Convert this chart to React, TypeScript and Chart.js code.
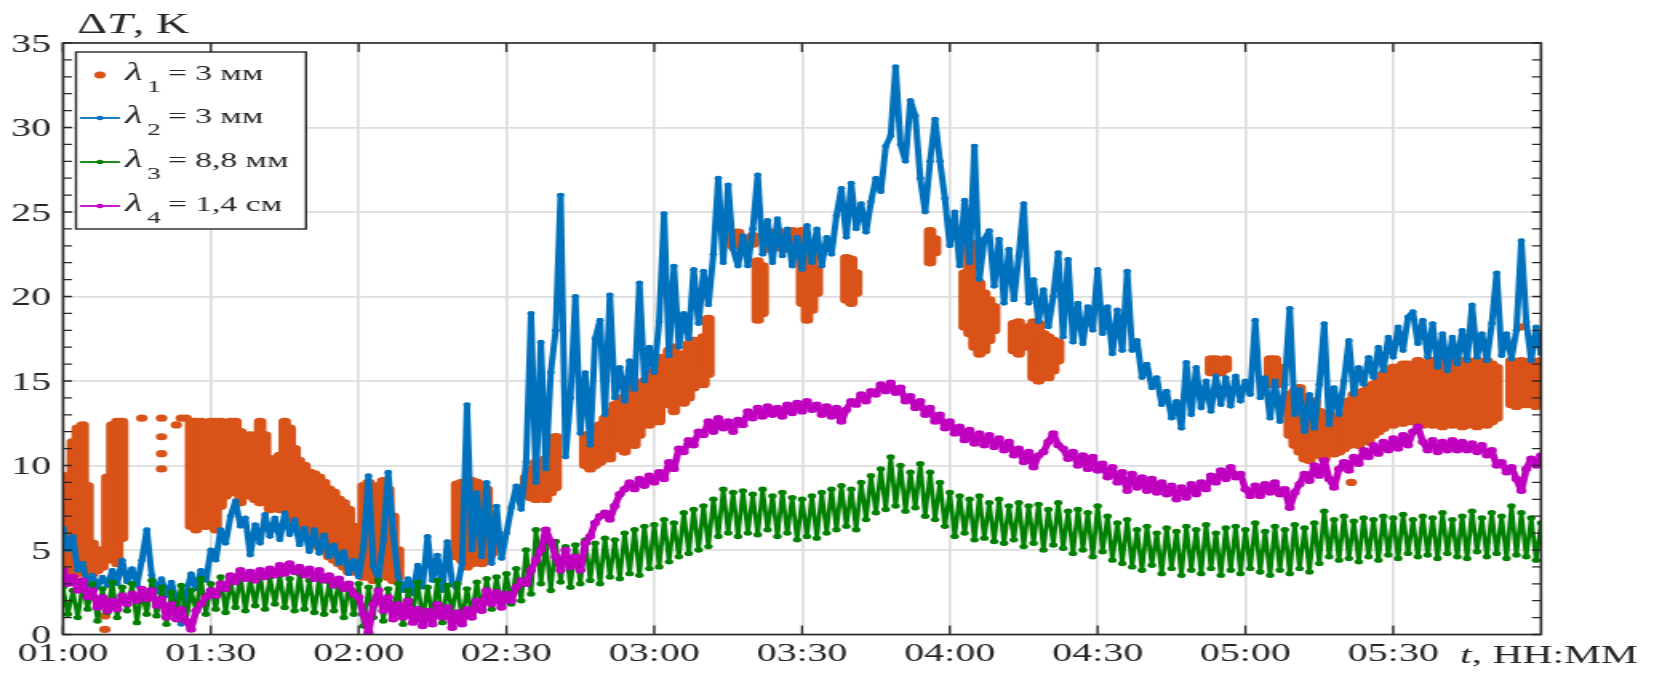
import React, { useEffect, useRef } from 'react';
import { Chart, registerables } from 'chart.js';

Chart.register(...registerables);

// ---------- data (minute offsets from 01:00, one sample per minute) ----------
const xTickMinutes = [0, 30, 60, 90, 120, 150, 180, 210, 240, 270];
const xTickLabels = ['01:00', '01:30', '02:00', '02:30', '03:00', '03:30', '04:00', '04:30', '05:00', '05:30'];
const X_MAX = 300;
const Y_MIN = 0;
const Y_MAX = 35;
const Y_STEP = 5;

const _ = null;

// λ2 = 3 mm (blue)
const blue = [
  6.3, 5.0, 5.8, 3.8, 4.2, 2.9, 3.5, 2.8, 3.4, 2.9,
  3.8, 3.0, 4.4, 3.1, 3.9, 2.9, 4.4, 6.2, 3.5, 2.5,
  3.3, 2.3, 3.1, 2.0, 0.6, 2.4, 3.6, 2.7, 3.8, 3.2,
  5.0, 4.4, 6.2, 5.4, 7.0, 7.9, 6.4, 6.9, 4.7, 6.5,
  5.4, 7.1, 5.8, 6.9, 5.6, 7.2, 5.9, 6.8, 5.3, 6.3,
  4.9, 6.2, 4.8, 5.9, 4.6, 5.3, 4.2, 4.9, 3.6, 4.4,
  3.4, 5.2, 9.4, 4.0, 3.3, 5.6, 9.6, 6.0, 3.4, 2.6,
  3.3, 2.4, 4.1, 2.8, 5.8, 3.2, 4.7, 2.6, 5.5, 3.0,
  2.7, 4.2, 13.6, 5.0, 8.4, 4.6, 9.0, 4.2, 7.6, 4.5,
  6.0, 7.5, 8.8, 7.4, 10.2, 19.0, 9.0, 17.3, 9.8, 15.5,
  18.0, 26.0, 10.5, 14.0, 20.0, 11.9, 15.5, 11.2, 17.5, 18.6,
  13.0, 20.1, 14.0, 15.8, 13.8, 16.2, 14.5, 20.8, 15.0, 17.0,
  15.5, 18.5, 24.9, 16.5, 21.8, 17.0, 19.0, 17.5, 21.6, 18.4,
  21.5, 19.5, 22.5, 27.0, 22.0, 26.6, 22.8, 21.8, 23.6, 21.8,
  24.0, 27.2, 22.5, 24.5, 22.0, 24.6, 22.4, 24.0, 21.8, 23.5,
  21.6, 24.2, 22.0, 24.0, 21.8, 23.5, 22.5, 24.8, 26.4, 23.5,
  26.7, 24.0, 25.5, 23.8, 25.6, 27.0, 26.2, 28.9, 29.5, 33.6,
  29.0, 28.0, 31.6, 30.7, 27.0, 25.0, 28.0, 30.5, 28.0, 25.8,
  23.0, 25.0, 21.8, 25.7, 22.0, 28.9, 21.0, 23.4, 23.9, 20.6,
  23.4, 19.6, 22.8, 19.8, 22.4, 25.5, 19.6, 21.0, 18.5, 20.4,
  18.2, 20.0, 22.6, 17.6, 22.2, 17.3, 19.6, 17.2, 19.4, 18.0,
  21.6, 17.8, 19.4, 16.6, 19.2, 16.8, 21.5, 16.8, 17.4, 15.2,
  16.0, 14.6, 15.2, 13.6, 14.4, 12.8, 13.8, 12.2, 16.1, 13.0,
  15.8, 13.4, 15.0, 13.2, 15.3, 13.6, 15.2, 13.5, 15.3, 13.8,
  15.0, 14.2, 18.6, 14.0, 15.2, 12.8, 15.0, 12.6, 14.8, 19.3,
  13.0, 14.5, 12.0, 14.2, 12.2, 14.8, 18.4, 12.4, 14.6, 13.0,
  15.0, 17.4, 14.2, 15.8, 14.8, 16.4, 15.2, 17.0, 15.6, 17.6,
  16.4, 18.2, 16.8, 18.8, 19.1, 17.2, 18.6, 16.4, 18.4, 15.8,
  17.8, 15.6, 17.6, 16.0, 18.0, 16.2, 19.5, 16.4, 17.8, 16.2,
  18.4, 21.4, 16.5, 17.8, 16.3, 18.0, 23.3, 18.5, 16.2, 18.2,
  16.6,
];

// λ3 = 8,8 mm (green)
const green = [
  2.8, 1.2, 2.6, 1.0, 2.9, 1.5, 3.0, 0.8, 2.7, 1.3,
  3.1, 1.0, 2.8, 1.4, 3.0, 0.7, 2.6, 1.2, 3.2, 1.1,
  2.8, 0.6, 2.5, 1.3, 2.9, 0.8, 2.6, 1.4, 3.3, 1.2,
  3.0, 1.5, 3.4, 1.3, 3.2, 1.6, 3.5, 1.4, 3.3, 1.7,
  3.6, 1.5, 3.4, 1.8, 3.5, 1.6, 3.3, 1.4, 3.6, 1.5,
  3.2, 1.3, 3.4, 1.2, 3.1, 1.4, 3.3, 1.0, 3.0, 1.2,
  3.0, 0.5, 2.8, 1.0, 3.2, 0.8, 2.7, 1.1, 3.0, 0.6,
  2.6, 1.2, 3.1, 0.8, 2.8, 1.0, 3.2, 0.7, 2.9, 1.3,
  3.0, 0.8, 2.7, 1.2, 3.1, 1.4, 3.3, 1.5, 3.4, 1.6,
  3.6, 1.8, 3.9, 2.0, 5.0, 2.4, 6.2, 3.0, 5.4, 2.6,
  5.5, 3.1, 5.2, 2.8, 5.3, 3.0, 5.6, 3.2, 5.4, 3.0,
  5.7, 3.4, 5.6, 3.3, 6.0, 3.6, 6.2, 3.5, 6.4, 3.9,
  6.5, 4.0, 6.8, 4.3, 6.6, 4.6, 7.2, 4.8, 7.4, 5.0,
  7.6, 5.2, 8.0, 5.8, 8.6, 6.0, 8.4, 5.8, 8.5, 6.0,
  8.3, 5.9, 8.6, 6.2, 8.2, 5.8, 8.4, 6.0, 8.1, 5.6,
  8.0, 5.8, 8.2, 5.7, 8.4, 6.0, 8.6, 6.2, 8.8, 6.4,
  8.6, 6.2, 9.0, 6.8, 9.4, 7.2, 9.8, 7.4, 10.5, 7.6,
  10.0, 7.3, 9.6, 7.5, 10.1, 7.0, 9.6, 6.8, 9.0, 6.4,
  8.4, 5.8, 8.2, 6.0, 8.0, 5.6, 8.2, 5.7, 7.8, 5.5,
  8.0, 5.4, 7.6, 5.6, 7.8, 5.2, 7.6, 5.4, 7.7, 5.0,
  7.4, 5.3, 7.8, 5.1, 7.3, 4.8, 7.4, 5.0, 7.2, 4.6,
  7.6, 4.9, 7.0, 4.4, 6.6, 4.2, 6.8, 4.0, 6.2, 3.8,
  6.4, 4.1, 6.0, 3.6, 6.3, 3.9, 6.1, 3.5, 6.4, 3.8,
  6.2, 3.6, 6.5, 3.9, 6.0, 3.5, 6.3, 3.8, 6.4, 3.6,
  6.2, 3.9, 6.6, 3.7, 6.1, 3.5, 6.4, 3.8, 6.2, 3.6,
  6.5, 3.9, 6.3, 3.7, 6.6, 4.2, 7.3, 4.6, 6.8, 4.4,
  7.0, 4.5, 6.7, 4.3, 6.9, 4.6, 6.8, 4.4, 7.0, 4.7,
  6.9, 4.5, 7.1, 4.8, 6.8, 4.6, 7.0, 4.7, 6.9, 4.5,
  7.2, 4.8, 6.8, 4.6, 7.0, 4.5, 7.3, 4.9, 6.9, 4.6,
  7.2, 4.8, 7.0, 4.5, 7.6, 4.7, 7.2, 4.6, 6.9, 4.4,
  6.6,
];

// λ4 = 1,4 cm (magenta)
const purple = [
  3.8, 3.0, 3.4, 2.6, 3.2, 2.2, 2.6, 1.6, 2.2, 1.4,
  2.0, 1.5, 2.3, 1.8, 2.4, 2.0, 2.7, 2.1, 2.6, 1.7,
  2.1, 1.0, 1.8, 0.9, 1.5, 0.8, 0.3, 1.4, 1.8, 2.2,
  2.6, 2.3, 3.0, 2.7, 3.5, 3.1, 3.8, 3.3, 3.7, 3.2,
  3.8, 3.4, 3.9, 3.5, 4.1, 3.6, 4.2, 3.7, 4.0, 3.5,
  3.9, 3.3, 3.8, 3.2, 3.5, 2.9, 3.3, 2.7, 3.0, 2.4,
  2.2, 1.2, 0.1, 1.8, 2.6, 1.4, 2.2, 0.9, 1.8, 1.0,
  2.0, 0.7, 1.5, 0.5, 1.4, 0.6, 1.8, 1.0, 1.6, 0.4,
  1.3, 0.6, 1.5, 1.0, 2.0, 1.4, 2.6, 1.8, 2.5, 1.6,
  2.4, 2.0, 2.8, 3.2, 3.0, 3.8, 4.4, 5.0, 6.2, 5.5,
  4.6, 3.8, 5.0, 4.0, 4.6, 3.8, 5.4, 5.8, 6.6, 7.0,
  7.2, 6.8, 7.6, 8.3, 8.6, 9.0, 8.6, 9.2, 8.8, 9.4,
  9.0, 9.6, 9.2, 10.2, 9.8, 11.0, 10.8, 11.5, 11.2, 12.0,
  11.8, 12.6, 12.0, 12.8, 12.2, 12.6, 12.0, 12.7, 12.4, 13.2,
  12.8, 13.4, 12.9, 13.5, 13.0, 13.4, 12.9, 13.6, 13.1, 13.7,
  13.2, 13.8, 13.3, 13.6, 13.0, 13.5, 12.9, 13.4, 12.6, 13.3,
  13.8, 13.6, 14.2, 13.8, 14.4, 14.2, 14.8, 14.4, 14.9, 14.3,
  14.6, 13.8, 14.1, 13.4, 13.8, 13.0, 13.4, 12.6, 13.0, 12.2,
  12.6, 11.9, 12.3, 11.5, 12.1, 11.3, 11.9, 11.2, 11.8, 11.1,
  11.6, 10.9, 11.4, 10.6, 11.0, 10.2, 10.8, 9.9, 10.6, 10.8,
  11.4, 11.9, 11.2, 11.0, 10.4, 10.8, 10.0, 10.6, 9.8, 10.5,
  9.7, 10.1, 9.3, 9.9, 9.0, 9.6, 8.5, 9.5, 8.7, 9.3,
  8.5, 9.2, 8.4, 9.0, 8.3, 8.8, 8.0, 8.7, 8.1, 8.9,
  8.3, 9.0, 8.6, 9.4, 9.0, 9.7, 9.2, 9.9, 9.3, 9.5,
  8.6, 8.2, 8.8, 8.2, 8.9, 8.4, 9.0, 8.3, 8.6, 7.5,
  8.4, 8.9, 9.5, 9.1, 10.0, 9.4, 10.3, 9.2, 8.7, 9.8,
  10.2, 9.7, 10.5, 10.1, 10.9, 10.5, 11.2, 10.7, 11.4, 10.9,
  11.6, 11.0, 11.8, 11.2, 12.0, 12.3, 11.4, 10.9, 11.5, 10.8,
  11.4, 10.9, 11.5, 10.9, 11.4, 10.9, 11.3, 10.8, 11.2, 10.6,
  10.9, 10.0, 10.2, 9.6, 9.9, 9.2, 8.5, 9.8, 10.4, 10.0,
  10.6,
];

// λ1 = 3 mm (orange dots): range of the dense dot stripes per minute
const orangeLo = [
  3.5, 3.2, 3.0, 3.4, 3.6, 3.5, 3.4, 3.6, 3.8, 4.2,
  4.6, 4.0, 5.5, _, _, _, _, _, _, _,
  _, _, _, _, _, _, 6.2, 6.0, 7.0, 6.2,
  6.4, 6.0, 7.4, 8.0, 8.2, 8.4, 7.6, 8.8, 8.0, 7.8,
  7.6, 7.8, 7.2, 7.4, 7.2, 7.4, 6.8, 6.4, 6.0, 5.8,
  5.6, 5.2, 5.0, 4.8, 4.4, 4.2, 4.0, 3.8, 3.5, 3.5,
  4.0, 3.2, 3.6, 3.0, 3.4, 3.5, 3.2, 3.0, 3.2, _,
  _, _, _, _, _, _, _, _, _, _,
  4.4, 4.2, 3.8, 4.0, 4.4, 4.0, 4.2, 4.6, _, _,
  _, _, _, _, 8.5, 7.9, 7.8, 8.0, 7.8, 8.2,
  8.5, _, _, _, _, _, 9.8, 9.6, 9.8, 10.0,
  10.4, 10.2, 10.8, 11.0, 10.6, 11.4, 11.0, 11.6, 12.4, 12.2,
  12.6, 12.4, 13.6, 13.4, 13.0, 13.6, 13.5, 13.8, 14.4, 14.8,
  14.6, 15.2, _, _, _, _, 22.8, 23.0, 22.8, _,
  22.9, 18.4, 18.8, 22.6, 22.8, 22.7, 22.8, 22.6, 22.8, 23.0,
  19.4, 18.4, 19.0, 20.0, _, _, _, _, _, 19.6,
  19.4, 20.0, _, _, _, _, _, _, _, _,
  _, _, _, _, _, _, 21.8, 22.4, _, _,
  _, _, _, 18.0, 17.6, 16.8, 16.4, 16.6, 17.2, 17.8,
  _, _, _, 16.6, 16.4, 16.8, 17.0, 15.0, 14.8, 15.2,
  15.0, 15.4, 16.0, _, _, _, _, _, _, _,
  _, _, _, _, _, _, _, _, _, _,
  _, _, _, _, _, _, _, _, _, _,
  _, _, _, 15.3, 15.4, 15.3, 15.5, _, _, _,
  _, _, _, _, _, 14.6, 14.8, 14.6, _, 11.6,
  11.0, 10.6, 10.2, 10.1, 10.4, 10.6, 10.2, 10.8, 10.5, 10.6,
  10.8, 11.0, 11.2, 11.0, 11.4, 11.2, 11.6, 11.8, 12.0, 12.4,
  12.2, 12.6, 12.3, 12.8, 12.4, 12.6, 12.2, 12.4, 12.2, 12.3,
  12.1, 12.4, 12.2, 12.4, 12.1, 12.2, 12.4, 12.1, 12.3, 12.2,
  12.4, 12.6, _, _, 13.4, 13.3, 13.6, 13.4, 13.5, 13.3,
  13.6,
];

const orangeHi = [
  6.0, 9.6, 11.6, 12.4, 12.6, 9.0, 5.6, 5.2, 5.0, 9.5,
  12.6, 12.8, 12.8, _, _, _, _, _, _, _,
  _, _, _, _, _, _, 12.8, 12.8, 12.8, 12.6,
  12.8, 12.8, 12.8, 12.6, 12.8, 12.8, 12.2, 11.8, 12.0, 11.4,
  12.8, 12.0, 10.6, 10.4, 10.8, 12.8, 12.4, 11.2, 10.0, 10.2,
  9.8, 9.7, 9.5, 9.2, 8.8, 8.6, 8.2, 8.0, 7.6, 6.6,
  6.0, 9.0, 9.2, 8.6, 9.0, 9.3, 8.8, 7.2, 5.2, _,
  _, _, _, _, _, _, _, _, _, _,
  9.1, 9.2, 8.0, 9.3, 9.2, 8.6, 8.8, 7.0, _, _,
  _, _, _, _, 9.5, 10.0, 10.4, 9.8, 10.6, 11.4,
  11.9, _, _, _, _, _, 12.0, 11.4, 12.4, 12.6,
  13.0, 13.4, 13.8, 14.2, 14.0, 14.6, 15.0, 14.8, 15.2, 15.6,
  15.8, 16.6, 16.2, 17.0, 17.2, 16.4, 16.8, 17.4, 17.6, 17.2,
  17.8, 18.9, _, _, _, _, 23.8, 24.0, 23.6, _,
  23.8, 22.3, 22.0, 23.8, 24.0, 23.6, 24.0, 23.8, 24.1, 24.0,
  24.1, 23.4, 22.6, 21.8, _, _, _, _, _, 22.5,
  22.4, 21.6, _, _, _, _, _, _, _, _,
  _, _, _, _, _, _, 24.1, 23.6, _, _,
  _, _, _, 21.6, 23.4, 21.2, 21.0, 20.4, 20.0, 19.6,
  _, _, _, 18.6, 18.7, 18.2, 18.4, 18.7, 18.6, 18.0,
  17.8, 17.6, 17.5, _, _, _, _, _, _, _,
  _, _, _, _, _, _, _, _, _, _,
  _, _, _, _, _, _, _, _, _, _,
  _, _, _, 16.5, 16.5, 16.4, 16.5, _, _, _,
  _, _, _, _, _, 16.5, 16.5, 16.0, _, 14.4,
  14.6, 14.8, 14.2, 13.6, 14.0, 13.4, 13.0, 13.3, 12.8, 13.0,
  13.2, 14.0, 14.4, 14.5, 14.6, 14.8, 15.0, 15.2, 15.6, 15.8,
  16.0, 16.0, 16.2, 16.2, 16.0, 16.4, 16.0, 16.3, 16.4, 16.2,
  16.4, 16.3, 16.4, 16.2, 16.4, 16.4, 16.3, 16.4, 16.2, 16.4,
  16.2, 16.0, _, _, 16.4, 16.2, 16.4, 16.0, 16.4, 16.2,
  16.4,
];

// isolated orange dots
const orangeDotT = [8.5, 8.5, 16, 20, 20, 20, 20, 23, 24, 25, 48, 261.5, 295.7];
const orangeDotV = [0.3, 1.1, 12.8, 12.8, 11.7, 10.7, 9.8, 12.4, 12.8, 12.8, 10.3, 9.0, 18.2];

const legendSubs = ['1', '2', '3', '4'];
const legendTexts = ['= 3 мм', '= 3 мм', '= 8,8 мм', '= 1,4 см'];

// ---------- styling ----------
const ORANGE = '#D95319';
const BLUE = '#0072BD';
const GREEN = '#008000';
const PURPLE = '#BF00BF';
const TEXT = '#262626';
const GRID = '#dedede';
const FONT = '"Liberation Serif", "Times New Roman", serif';

const CSS_W = 1654;
const H = 675;
const INT_W = 1034; // canvas is drawn narrower and stretched horizontally like the reference
const S = CSS_W / INT_W;
const px = (cssX: number) => cssX / S;

const PLOT_LEFT = 63;
const PLOT_RIGHT = 1541;
const PLOT_TOP = 43;
const PLOT_BOTTOM = 634.5;

function drawParts(ctx: CanvasRenderingContext2D, x: number, y: number, parts: { t: string; f: string }[]) {
  let cx = x;
  for (const p of parts) {
    ctx.font = p.f;
    ctx.fillText(p.t, cx, y);
    cx += ctx.measureText(p.t).width;
  }
}

const decorPlugin = {
  id: 'decor',
  afterDatasetsDraw(chart: any) {
    const { ctx, chartArea: a, scales } = chart;
    const xs = scales.x;
    const ys = scales.y;
    ctx.save();
    // inward ticks
    ctx.strokeStyle = TEXT;
    ctx.lineWidth = 1.3;
    ctx.beginPath();
    for (let v = Y_MIN; v <= Y_MAX; v += 1) {
      const py = ys.getPixelForValue(v);
      ctx.moveTo(a.left, py);
      ctx.lineTo(a.left + px(9), py);
      ctx.moveTo(a.right, py);
      ctx.lineTo(a.right - px(9), py);
    }
    for (const m of xTickMinutes) {
      const p = xs.getPixelForValue(m);
      ctx.moveTo(p, a.bottom);
      ctx.lineTo(p, a.bottom - 9);
      ctx.moveTo(p, a.top);
      ctx.lineTo(p, a.top + 9);
    }
    ctx.stroke();
    // axes box
    ctx.lineWidth = 1.6;
    ctx.strokeRect(a.left, a.top, a.right - a.left, a.bottom - a.top);

    // legend
    const lx0 = px(76);
    const lx1 = px(306);
    const ly0 = 52;
    const ly1 = 229;
    ctx.fillStyle = '#ffffff';
    ctx.fillRect(lx0, ly0, lx1 - lx0, ly1 - ly0);
    ctx.lineWidth = 1.4;
    ctx.strokeStyle = TEXT;
    ctx.strokeRect(lx0, ly0, lx1 - lx0, ly1 - ly0);
    const rowY = [75, 118, 162, 206];
    const colors = [ORANGE, BLUE, GREEN, PURPLE];
    for (let i = 0; i < 4; i++) {
      const cy = rowY[i];
      const c = colors[i];
      ctx.fillStyle = c;
      ctx.strokeStyle = c;
      if (i === 0) {
        ctx.beginPath();
        ctx.arc(px(100), cy, 3.6, 0, Math.PI * 2);
        ctx.fill();
      } else {
        ctx.lineWidth = 1.8;
        ctx.beginPath();
        ctx.moveTo(px(80), cy);
        ctx.lineTo(px(120), cy);
        ctx.stroke();
        ctx.beginPath();
        ctx.arc(px(100), cy, 2.2, 0, Math.PI * 2);
        ctx.fill();
      }
      ctx.fillStyle = TEXT;
      ctx.textAlign = 'left';
      ctx.textBaseline = 'alphabetic';
      ctx.font = `italic 25px ${FONT}`;
      ctx.fillText('λ', px(125), cy + 5);
      ctx.font = `17px ${FONT}`;
      ctx.fillText(legendSubs[i], px(147), cy + 17);
      ctx.font = `21px ${FONT}`;
      ctx.fillText(legendTexts[i], px(168), cy + 5);
    }
    ctx.restore();
  },
  afterDraw(chart: any) {
    const { ctx } = chart;
    ctx.save();
    ctx.fillStyle = TEXT;
    ctx.textAlign = 'left';
    ctx.textBaseline = 'alphabetic';
    drawParts(ctx, px(77), 33, [
      { t: 'Δ', f: `29px ${FONT}` },
      { t: 'T', f: `italic 29px ${FONT}` },
      { t: ', K', f: `29px ${FONT}` },
    ]);
    drawParts(ctx, px(1460), 663, [
      { t: 't', f: `italic 26px ${FONT}` },
      { t: ', HH:MM', f: `26px ${FONT}` },
    ]);
    ctx.restore();
  },
};

export default function App() {
  const ref = useRef<HTMLCanvasElement>(null);

  useEffect(() => {
    document.body.style.margin = '0';
    const canvas = ref.current;
    if (!canvas) return;

    const toPoints = (arr: number[]) => arr.map((v, i) => ({ x: i, y: v }));
    const orangeBars = orangeLo
      .map((lo, i) => (lo == null || orangeHi[i] == null ? null : { x: i, y: [lo, orangeHi[i]] }))
      .filter((p) => p !== null);
    const orangeDots = orangeDotT.map((t, i) => ({ x: t, y: orangeDotV[i] }));

    const lineBase = {
      type: 'line' as const,
      fill: false,
      tension: 0,
      pointBorderWidth: 0,
      pointHoverRadius: 0,
      borderJoinStyle: 'round' as const,
    };

    const chart = new Chart(canvas, {
      type: 'line',
      data: {
        datasets: [
          {
            type: 'bar',
            label: 'λ1 = 3 мм',
            data: orangeBars as any,
            backgroundColor: ORANGE,
            borderWidth: 0,
            borderSkipped: false,
            borderRadius: 3.6,
            barThickness: 7.2,
            order: 5,
          } as any,
          {
            ...lineBase,
            label: 'λ1 dots',
            data: orangeDots,
            showLine: false,
            pointRadius: 3.6,
            pointBackgroundColor: ORANGE,
            borderColor: ORANGE,
            order: 4,
          },
          {
            ...lineBase,
            label: 'λ2 = 3 мм',
            data: toPoints(blue),
            borderColor: BLUE,
            borderWidth: 4,
            pointRadius: 2.4,
            pointBackgroundColor: BLUE,
            order: 3,
          },
          {
            ...lineBase,
            label: 'λ3 = 8,8 мм',
            data: toPoints(green),
            borderColor: GREEN,
            borderWidth: 2.8,
            pointRadius: 2.7,
            pointBackgroundColor: GREEN,
            order: 2,
          },
          {
            ...lineBase,
            label: 'λ4 = 1,4 см',
            data: toPoints(purple),
            borderColor: PURPLE,
            borderWidth: 4.6,
            pointRadius: 3.2,
            pointBackgroundColor: PURPLE,
            order: 1,
          },
        ],
      },
      options: {
        responsive: false,
        animation: false,
        devicePixelRatio: 1,
        events: [],
        layout: {
          padding: { top: PLOT_TOP, right: INT_W - px(PLOT_RIGHT), left: 0, bottom: 0 },
        },
        plugins: {
          legend: { display: false },
          tooltip: { enabled: false },
        },
        scales: {
          x: {
            type: 'linear',
            min: 0,
            max: X_MAX,
            offset: false,
            grid: { color: GRID, lineWidth: 1.7, drawTicks: false, offset: false },
            border: { display: false },
            afterBuildTicks: (s: any) => {
              s.ticks = xTickMinutes.map((v) => ({ value: v }));
            },
            afterFit: (s: any) => {
              s.height = H - PLOT_BOTTOM;
            },
            ticks: {
              autoSkip: false,
              maxRotation: 0,
              minRotation: 0,
              padding: 7,
              color: TEXT,
              font: { family: FONT, size: 25, lineHeight: 1 },
              callback: (_v: any, i: number) => xTickLabels[i] ?? '',
            },
          },
          y: {
            type: 'linear',
            min: Y_MIN,
            max: Y_MAX,
            grid: { color: GRID, lineWidth: 1.7, drawTicks: false },
            border: { display: false },
            afterFit: (s: any) => {
              s.width = px(PLOT_LEFT);
            },
            ticks: {
              stepSize: Y_STEP,
              padding: 7.5,
              labelOffset: 2,
              color: TEXT,
              font: { family: FONT, size: 25, lineHeight: 1 },
            },
          },
        },
      } as any,
      plugins: [decorPlugin],
    });

    return () => chart.destroy();
  }, []);

  return (
    <canvas
      ref={ref}
      width={INT_W}
      height={H}
      style={{ display: 'block', width: `${CSS_W}px`, height: `${H}px` }}
    />
  );
}
